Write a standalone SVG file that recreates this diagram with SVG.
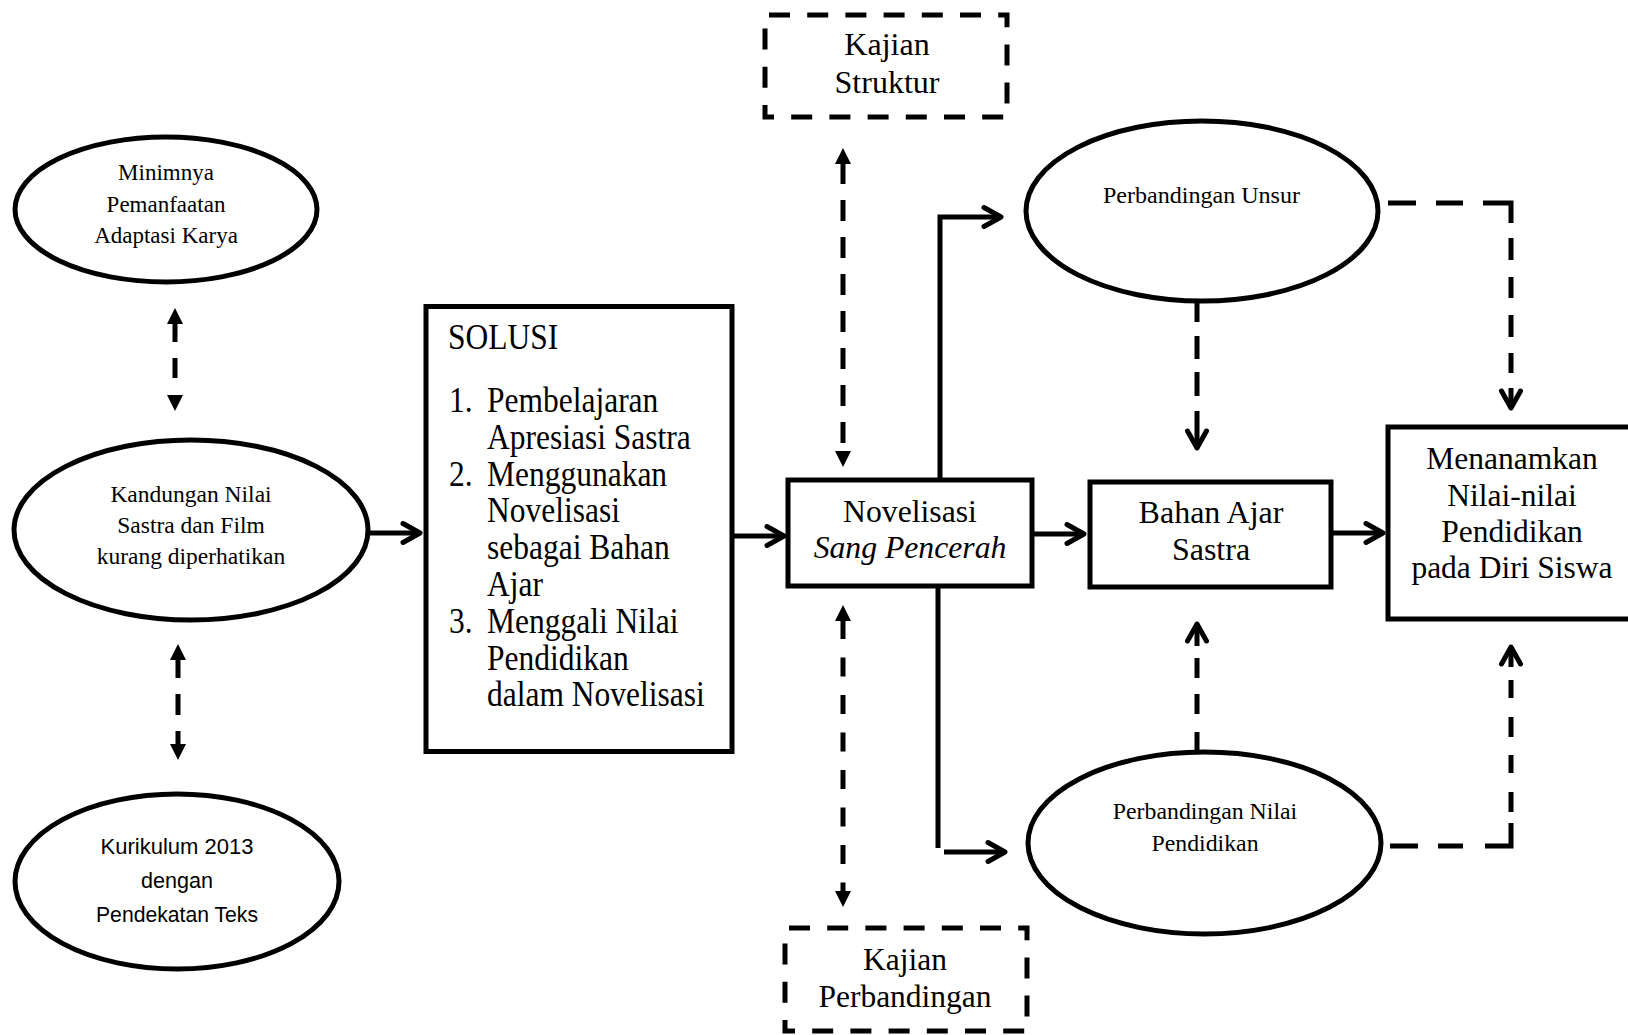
<svg xmlns="http://www.w3.org/2000/svg" width="1628" height="1035" viewBox="0 0 1628 1035">
<style>
  .shape{fill:#fff;stroke:#000;stroke-width:5}
  .dbox{fill:#fff;stroke:#000;stroke-width:5;stroke-dasharray:21 17.2;stroke-dashoffset:-4}
  .line{fill:none;stroke:#000;stroke-width:5}
  .serif{font-family:"Liberation Serif","Times New Roman",serif;fill:#000;text-anchor:middle}
  .sans{font-family:"Liberation Sans",Arial,sans-serif;fill:#000;text-anchor:middle}
  .start{text-anchor:start}
</style>
<defs>
  <marker id="chev" markerUnits="userSpaceOnUse" viewBox="-25 -15 30 30" markerWidth="30" markerHeight="30" refX="0" refY="0" orient="auto" overflow="visible">
    <path d="M-17,-9.5 L0,0 L-17,9.5" fill="none" stroke="#000" stroke-width="5" stroke-linecap="round" stroke-linejoin="round"/>
  </marker>
  <marker id="tri" markerUnits="userSpaceOnUse" viewBox="-2 -10 20 20" markerWidth="20" markerHeight="20" refX="0" refY="0" orient="auto-start-reverse" overflow="visible">
    <path d="M-1,-8 L15,0 L-1,8 Z" fill="#000"/>
  </marker>
</defs>
<rect width="1628" height="1035" fill="#fff"/>

<g id="connectors">
  <!-- left dashed double arrows -->
  <path class="line" d="M175,323 V396" stroke-dasharray="19 16 20 18" marker-start="url(#tri)" marker-end="url(#tri)"/>
  <path class="line" d="M178,659 V745" stroke-dasharray="19 16 21 16 14" marker-start="url(#tri)" marker-end="url(#tri)"/>
  <!-- vertical dashed double arrows near Novelisasi -->
  <path class="line" d="M843,163 V452" stroke-dasharray="21 16" marker-start="url(#tri)" marker-end="url(#tri)"/>
  <path class="line" d="M843,620 V892" stroke-dasharray="19 18.5" marker-start="url(#tri)" marker-end="url(#tri)"/>
  <!-- solid arrows -->
  <path class="line" d="M368,533 H420" marker-end="url(#chev)"/>
  <path class="line" d="M732,536 H784" marker-end="url(#chev)"/>
  <path class="line" d="M1032,534 H1084" marker-end="url(#chev)"/>
  <path class="line" d="M1331,533 H1383" marker-end="url(#chev)"/>
  <path class="line" d="M940,482 V217 H1001" marker-end="url(#chev)"/>
  <path class="line" d="M938,585 V848"/>
  <path class="line" d="M944,852 H1005" marker-end="url(#chev)"/>
  <!-- right dashed arrows -->
  <path class="line" d="M1197,302 V448" stroke-dasharray="20 14 23 13 24 15 38 100" marker-end="url(#chev)"/>
  <path class="line" d="M1388,203 H1511 V408" stroke-dasharray="28 20 27 20 48 15 22 17 21 17 22 16 20 15 20 100" marker-end="url(#chev)"/>
  <path class="line" d="M1197,752 V624" stroke-dasharray="20 18 20 16 20 12 22 100" marker-end="url(#chev)"/>
  <path class="line" d="M1390,846 H1511 V647" stroke-dasharray="28 20 25 22 49 11 20 19 18 18 20 19 18 13 20 100" marker-end="url(#chev)"/>
</g>

<g id="node-minimnya">
  <ellipse class="shape" cx="166" cy="209.5" rx="151" ry="72.5"/>
  <text class="serif" font-size="23" x="166" y="180">Minimnya</text>
  <text class="serif" font-size="23" x="166" y="212">Pemanfaatan</text>
  <text class="serif" font-size="23" x="166" y="243">Adaptasi Karya</text>
</g>

<g id="node-kandungan">
  <ellipse class="shape" cx="191" cy="530" rx="177" ry="90"/>
  <text class="serif" font-size="23.5" x="191" y="502">Kandungan Nilai</text>
  <text class="serif" font-size="23.5" x="191" y="533">Sastra dan Film</text>
  <text class="serif" font-size="23.5" x="191" y="564">kurang diperhatikan</text>
</g>

<g id="node-kurikulum">
  <ellipse class="shape" cx="177" cy="881.5" rx="162" ry="87.5"/>
  <text class="sans" font-size="22.5" x="177" y="854" textLength="153" lengthAdjust="spacingAndGlyphs">Kurikulum 2013</text>
  <text class="sans" font-size="22.5" x="177" y="888" textLength="72" lengthAdjust="spacingAndGlyphs">dengan</text>
  <text class="sans" font-size="22.5" x="177" y="922" textLength="162" lengthAdjust="spacingAndGlyphs">Pendekatan Teks</text>
</g>

<g id="node-solusi">
  <rect class="shape" x="426" y="306.5" width="306" height="445"/>
  <g transform="scale(1,1.13)" font-size="31.5">
    <text class="serif start" x="448" y="308.9">SOLUSI</text>
    <text class="serif start" x="449" y="364.6">1.</text>
    <text class="serif start" x="487" y="364.6">Pembelajaran</text>
    <text class="serif start" x="487" y="397.2">Apresiasi Sastra</text>
    <text class="serif start" x="449" y="429.7">2.</text>
    <text class="serif start" x="487" y="429.7">Menggunakan</text>
    <text class="serif start" x="487" y="462.3">Novelisasi</text>
    <text class="serif start" x="487" y="494.9">sebagai Bahan</text>
    <text class="serif start" x="487" y="527.4">Ajar</text>
    <text class="serif start" x="449" y="560.0">3.</text>
    <text class="serif start" x="487" y="560.0">Menggali Nilai</text>
    <text class="serif start" x="487" y="592.6">Pendidikan</text>
    <text class="serif start" x="487" y="625.1">dalam Novelisasi</text>
  </g>
</g>

<g id="node-kajian-struktur">
  <rect class="dbox" x="765" y="15" width="242" height="102"/>
  <text class="serif" font-size="32" x="887" y="55">Kajian</text>
  <text class="serif" font-size="32" x="887" y="93">Struktur</text>
</g>

<g id="node-novelisasi">
  <rect class="shape" x="788" y="480" width="244" height="106"/>
  <text class="serif" font-size="31.7" x="910" y="522">Novelisasi</text>
  <text class="serif" font-size="31.7" x="910" y="558" font-style="italic">Sang Pencerah</text>
</g>

<g id="node-kajian-perbandingan">
  <rect class="dbox" x="785" y="928" width="242" height="103"/>
  <text class="serif" font-size="31.5" x="905" y="970">Kajian</text>
  <text class="serif" font-size="31.5" x="905" y="1007">Perbandingan</text>
</g>

<g id="node-perbandingan-unsur">
  <ellipse class="shape" cx="1202" cy="211" rx="176" ry="90"/>
  <text class="serif" font-size="23.5" x="1201.5" y="203" textLength="197" lengthAdjust="spacingAndGlyphs">Perbandingan Unsur</text>
</g>

<g id="node-bahan-ajar">
  <rect class="shape" x="1090" y="482" width="241" height="105"/>
  <text class="serif" font-size="32" x="1211" y="523">Bahan Ajar</text>
  <text class="serif" font-size="32" x="1211" y="560">Sastra</text>
</g>

<g id="node-perbandingan-nilai">
  <ellipse class="shape" cx="1204.5" cy="843" rx="176.5" ry="91"/>
  <text class="serif" font-size="23.8" x="1205" y="819">Perbandingan Nilai</text>
  <text class="serif" font-size="23.8" x="1205" y="851">Pendidikan</text>
</g>

<g id="node-menanamkan">
  <rect class="shape" x="1388" y="427" width="280" height="192"/>
  <text class="serif" font-size="31.5" x="1512" y="469">Menanamkan</text>
  <text class="serif" font-size="31.5" x="1512" y="506">Nilai-nilai</text>
  <text class="serif" font-size="31.5" x="1512" y="542">Pendidikan</text>
  <text class="serif" font-size="31.5" x="1512" y="578">pada Diri Siswa</text>
</g>
</svg>
